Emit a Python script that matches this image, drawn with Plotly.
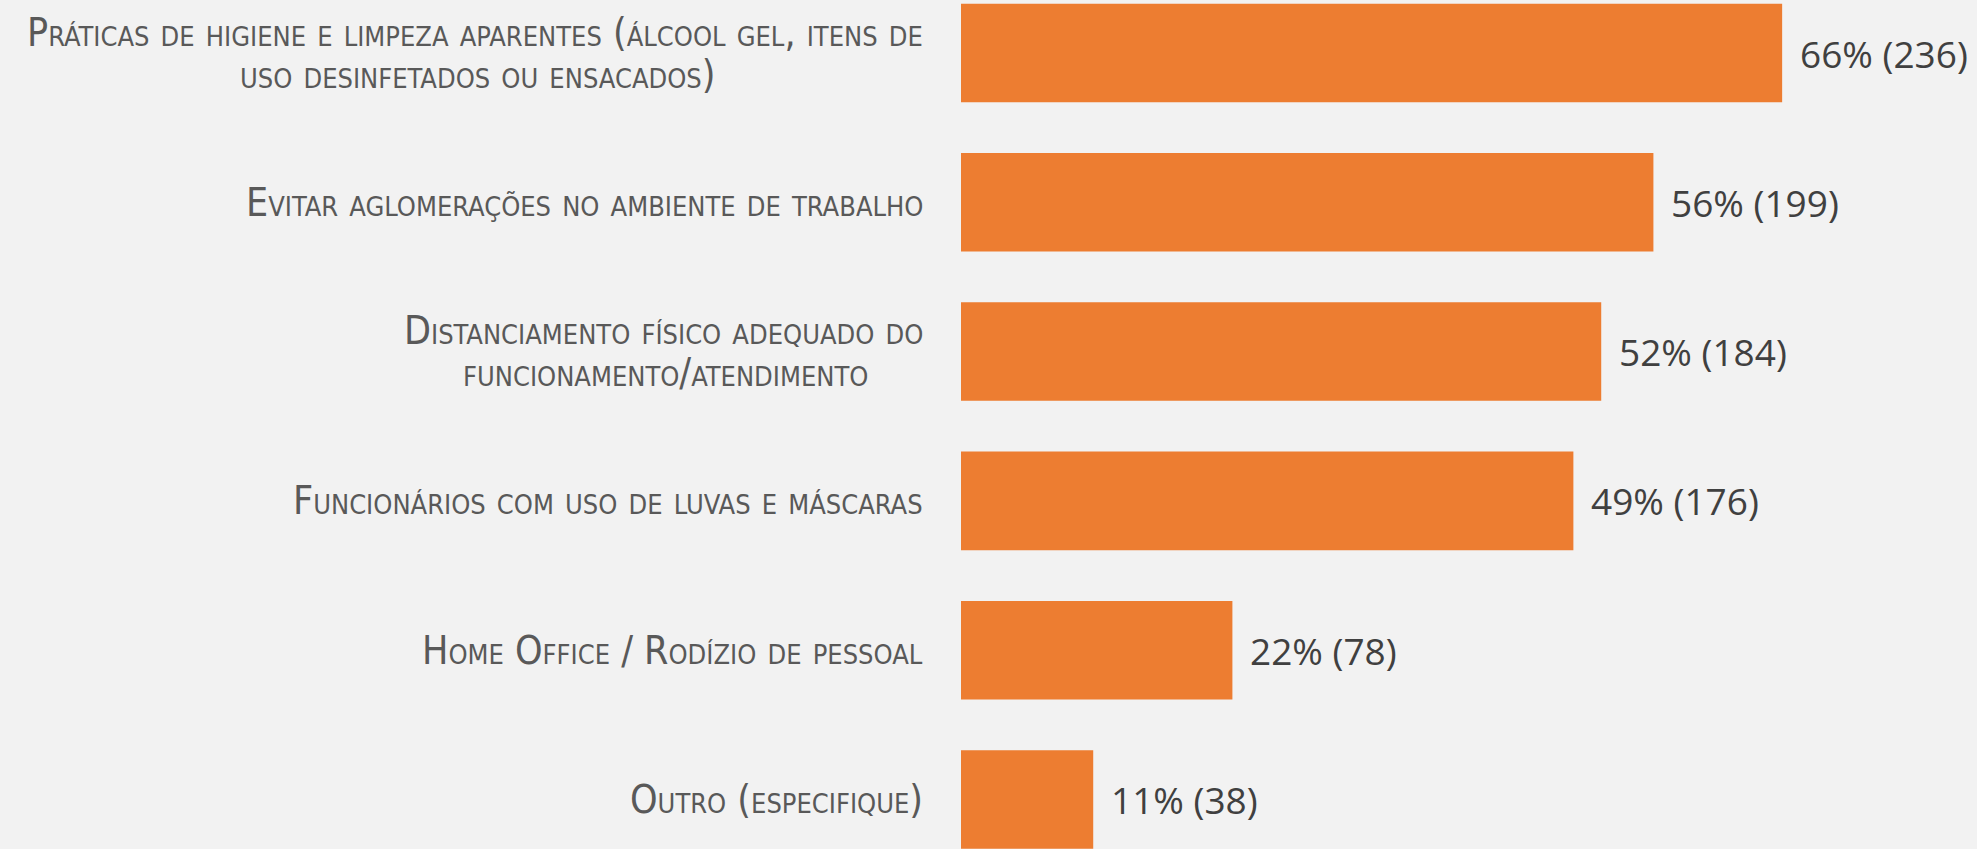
import plotly.graph_objects as go

categorias = [
    "Práticas de higiene e limpeza aparentes (álcool gel, itens de<br>uso desinfetados ou ensacados)",
    "Evitar aglomerações no ambiente de trabalho",
    "Distanciamento físico adequado do<br>funcionamento/atendimento",
    "Funcionários com uso de luvas e máscaras",
    "Home Office / Rodízio de pessoal",
    "Outro (especifique)",
]
respostas = [236, 199, 184, 176, 78, 38]
percentuais = [66, 56, 52, 49, 22, 11]

ids = [f"c{i}" for i in range(len(categorias))]
rotulos = [f"{p}% ({n})" for p, n in zip(percentuais, respostas)]

fig = go.Figure(go.Bar(
    x=respostas, y=ids, orientation="h",
    marker=dict(color="#ED7D31", line=dict(width=0)),
    width=0.66, hoverinfo="skip",
))

fonte_cat = dict(family="DejaVu Sans Condensed, Roboto", size=39, color="#595959", variant="small-caps")

# rótulos das categorias: cada linha separada, centralizadas entre si
for cid, cat in zip(ids, categorias):
    linhas = cat.split("<br>")
    if len(linhas) == 1:
        fig.add_annotation(x=0, y=cid, xref="x", yref="y", text=cat, showarrow=False,
                           xanchor="right", xshift=-36, font=fonte_cat)
    else:
        # bloco alinhado à direita, linhas centralizadas
        fig.add_annotation(x=0, y=cid, xref="x", yref="y", text=linhas[0], showarrow=False,
                           xanchor="right", xshift=-36, yshift=21, font=fonte_cat)
        fig.add_annotation(x=0, y=cid, xref="x", yref="y", text=linhas[1], showarrow=False,
                           xanchor="center", xshift=-36, yshift=-21, font=fonte_cat,
                           name="l2_" + cid)

# valores
for cid, n, txt in zip(ids, respostas, rotulos):
    fig.add_annotation(
        x=n, y=cid, xref="x", yref="y", text=txt, showarrow=False,
        xanchor="left", xshift=16,
        font=dict(family="Open Sans", size=37, color="#404040"),
    )

fig.update_layout(
    width=1977, height=849,
    margin=dict(l=961, r=0, t=0, b=0),
    paper_bgcolor="#F2F2F2", plot_bgcolor="#F2F2F2",
    showlegend=False,
    xaxis=dict(range=[0, 292], visible=False),
    yaxis=dict(categoryorder="array", categoryarray=ids, range=[5.332, -0.355],
               showticklabels=False, showgrid=False, zeroline=False),
)

# centra a segunda linha sob a primeira (medindo no navegador)
script = """
document.body.style.margin='0';
var gd = document.getElementsByClassName('plotly-graph-div')[0];
var anns = gd.querySelectorAll('.annotation');
var lay = gd.layout.annotations;
var upd = {};
for (var i = 0; i < lay.length; i++) {
  if (lay[i].name && lay[i].name.indexOf('l2_') === 0) {
    var w1 = anns[i-1].querySelector('text').getBBox().width;
    upd['annotations[' + i + '].xshift'] = -36 - w1 / 2;
  }
}
Plotly.relayout(gd, upd);
"""
fig.write_html("out.html", post_script=script, config={"displayModeBar": False})
